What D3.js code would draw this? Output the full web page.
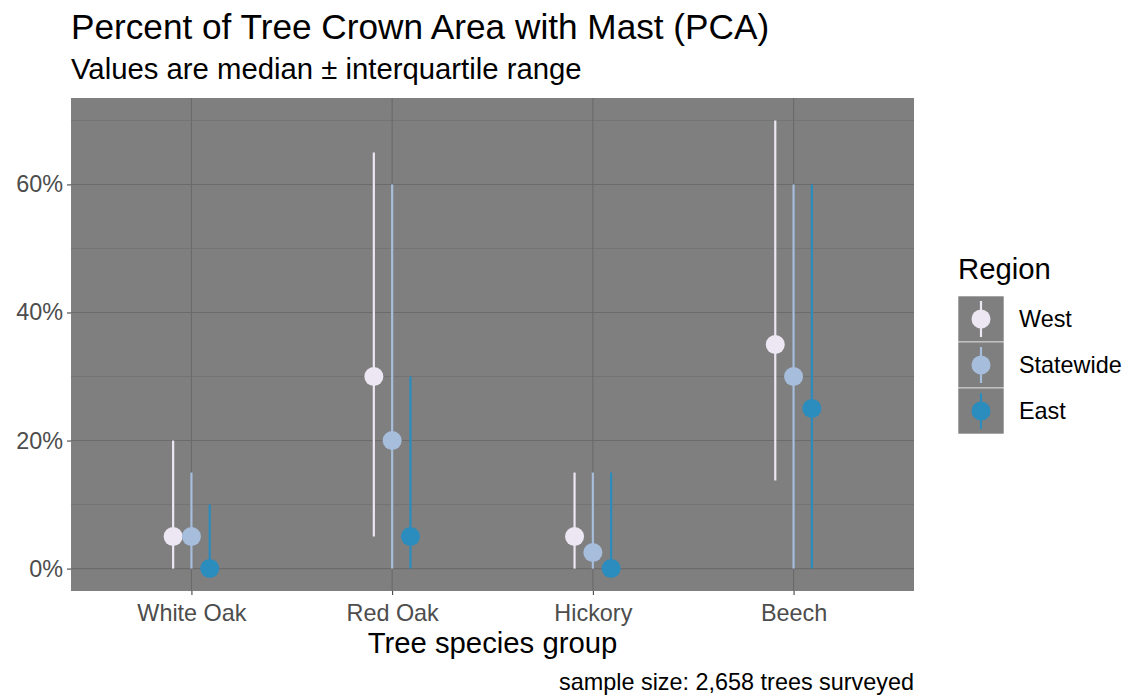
<!DOCTYPE html>
<html>
<head>
<meta charset="utf-8">
<script src="https://cdn.jsdelivr.net/npm/d3@7"></script>
<style>
  html, body { margin: 0; padding: 0; background: #ffffff; }
  svg { display: block; font-family: "Liberation Sans", Arial, sans-serif; }
</style>
</head>
<body>
<svg id="chart" width="1128" height="698"></svg>
<script>
// ---- data ----
const categories = ["White Oak", "Red Oak", "Hickory", "Beech"];
const regions = ["West", "Statewide", "East"];
const regionColors = ["#ece7f2", "#a6bddb", "#2b8cbe"];
const westMedian      = [5, 30, 5, 35];
const westLow         = [0, 5, 0, 13.75];
const westHigh        = [20, 65, 15, 70];
const statewideMedian = [5, 20, 2.5, 30];
const statewideLow    = [0, 0, 0, 0];
const statewideHigh   = [15, 60, 15, 60];
const eastMedian      = [0, 5, 0, 25];
const eastLow         = [0, 0, 0, 0];
const eastHigh        = [10, 30, 15, 60];
const yTicks = [0, 20, 40, 60];
const yMinorTicks = [10, 30, 50, 70];

const titleText = "Percent of Tree Crown Area with Mast (PCA)";
const subtitleText = "Values are median \u00B1 interquartile range";
const xTitleText = "Tree species group";
const captionText = "sample size: 2,658 trees surveyed";
const legendTitle = "Region";

const seriesData = [
  {region: "West", med: westMedian, lo: westLow, hi: westHigh},
  {region: "Statewide", med: statewideMedian, lo: statewideLow, hi: statewideHigh},
  {region: "East", med: eastMedian, lo: eastLow, hi: eastHigh}
];
const rows = [];
seriesData.forEach(s => categories.forEach((c, i) => rows.push({cat: c, region: s.region, med: s.med[i], lo: s.lo[i], hi: s.hi[i]})));

// ---- layout ----
const svg = d3.select("#chart");
const panel = {left: 71, top: 98, right: 914, bottom: 591};
const FONT = "Liberation Sans, Arial, sans-serif";

const x = d3.scalePoint().domain(categories).range([panel.left, panel.right]).padding(0.6);
const dodge = d3.scalePoint().domain(regions).range([-18.3, 18.3]);
const y = d3.scaleLinear().domain([-3.5, 73.5]).range([panel.bottom, panel.top]);
const color = d3.scaleOrdinal().domain(regions).range(regionColors);

svg.append("rect").attr("x", panel.left).attr("y", panel.top)
  .attr("width", panel.right - panel.left).attr("height", panel.bottom - panel.top)
  .attr("fill", "#7f7f7f");

const grid = svg.append("g");
grid.selectAll("line.minor").data(yMinorTicks).join("line")
  .attr("x1", panel.left).attr("x2", panel.right)
  .attr("y1", d => y(d)).attr("y2", d => y(d))
  .attr("stroke", "#6b6b6b").attr("stroke-width", 0.6);
grid.selectAll("line.majory").data(yTicks).join("line")
  .attr("x1", panel.left).attr("x2", panel.right)
  .attr("y1", d => y(d)).attr("y2", d => y(d))
  .attr("stroke", "#6b6b6b").attr("stroke-width", 1.1);
grid.selectAll("line.majorx").data(categories).join("line")
  .attr("y1", panel.top).attr("y2", panel.bottom)
  .attr("x1", d => x(d)).attr("x2", d => x(d))
  .attr("stroke", "#6b6b6b").attr("stroke-width", 1.1);

// axes
const yAxis = d3.axisLeft(y).tickValues(yTicks).tickFormat(d => d + "%").tickSize(4).tickPadding(4);
const yg = svg.append("g").attr("transform", `translate(${panel.left},0)`).call(yAxis);
yg.select(".domain").remove();
yg.selectAll(".tick line").attr("stroke", "#333333").attr("stroke-width", 1);
yg.selectAll(".tick text").attr("fill", "#4d4d4d").style("font-size", "23.4px").style("font-family", FONT);

const xAxis = d3.axisBottom(x).tickSize(4).tickPadding(9);
const xg = svg.append("g").attr("transform", `translate(0,${panel.bottom})`).call(xAxis);
xg.select(".domain").remove();
xg.selectAll(".tick line").attr("stroke", "#333333").attr("stroke-width", 1);
xg.selectAll(".tick text").attr("fill", "#4d4d4d").style("font-size", "23.4px").style("font-family", FONT);

// marks
const marks = svg.append("g");
marks.selectAll("line.range").data(rows).join("line")
  .attr("x1", d => x(d.cat) + dodge(d.region)).attr("x2", d => x(d.cat) + dodge(d.region))
  .attr("y1", d => y(d.lo)).attr("y2", d => y(d.hi))
  .attr("stroke", d => color(d.region)).attr("stroke-width", 2.2);
marks.selectAll("circle").data(rows).join("circle")
  .attr("cx", d => x(d.cat) + dodge(d.region)).attr("cy", d => y(d.med))
  .attr("r", 9.5).attr("fill", d => color(d.region));

// titles
svg.append("text").attr("x", 71).attr("y", 39).text(titleText)
  .attr("fill", "#000").style("font-size", "35.2px");
svg.append("text").attr("x", 71).attr("y", 79).text(subtitleText)
  .attr("fill", "#000").style("font-size", "29.3px");
svg.append("text").attr("x", (panel.left + panel.right) / 2).attr("y", 653)
  .attr("text-anchor", "middle").text(xTitleText)
  .attr("fill", "#000").style("font-size", "29.3px");
svg.append("text").attr("x", panel.right).attr("y", 690)
  .attr("text-anchor", "end").text(captionText)
  .attr("fill", "#000").style("font-size", "23.4px");

// legend
const lg = svg.append("g");
lg.append("text").attr("x", 958).attr("y", 279).text(legendTitle)
  .attr("fill", "#000").style("font-size", "29.3px");
const keyH = 46, keyW = 46, keyTop = 296, keyLeft = 958;
const keys = lg.selectAll("g.key").data(regions).join("g")
  .attr("transform", (d, i) => `translate(${keyLeft},${keyTop + i * keyH})`);
keys.append("rect").attr("width", keyW).attr("height", keyH)
  .attr("fill", "#7f7f7f").attr("stroke", "#ffffff").attr("stroke-width", 0.6);
keys.append("line").attr("x1", keyW / 2).attr("x2", keyW / 2)
  .attr("y1", 5).attr("y2", keyH - 5)
  .attr("stroke", d => color(d)).attr("stroke-width", 2.2);
keys.append("circle").attr("cx", keyW / 2).attr("cy", keyH / 2).attr("r", 9.5)
  .attr("fill", d => color(d));
keys.append("text").attr("x", keyW + 15).attr("y", keyH / 2 + 8).text(d => d)
  .attr("fill", "#000").style("font-size", "23.4px");
</script>
</body>
</html>
